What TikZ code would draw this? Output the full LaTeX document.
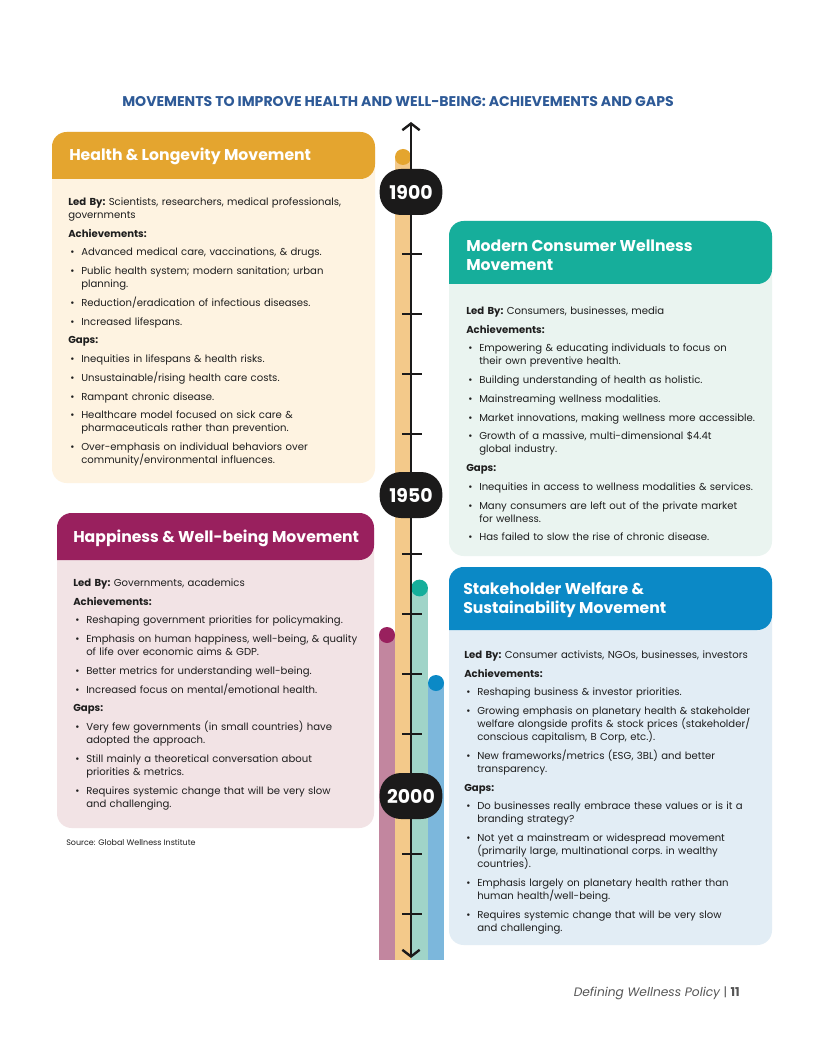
\documentclass[tikz,border=0pt]{standalone}
\usepackage{fontspec}
\setmainfont{Poppins}
\usetikzlibrary{arrows.meta}

\definecolor{titleblue}{HTML}{2E5A97}
\definecolor{txtgray}{HTML}{1E1E1E}
\definecolor{footgray}{HTML}{555555}
\definecolor{yearblack}{HTML}{1B1A1A}
\definecolor{hlhdr}{HTML}{E4A52F}
\definecolor{hlbody}{HTML}{FEF3E1}
\definecolor{hlbar}{HTML}{F3C98A}
\definecolor{mchdr}{HTML}{16AE9B}
\definecolor{mcbody}{HTML}{EAF4F0}
\definecolor{mcbar}{HTML}{A0D4C8}
\definecolor{hwhdr}{HTML}{99205E}
\definecolor{hwbody}{HTML}{F2E3E5}
\definecolor{hwbar}{HTML}{C2869F}
\definecolor{swhdr}{HTML}{0B89C6}
\definecolor{swbody}{HTML}{E2EDF5}
\definecolor{swbar}{HTML}{7CB7DC}

% box with coloured head: x1, ytop, x2, yhead, ybottom, head colour, body colour
\newcommand{\movbox}[7]{%
  \fill[#7, rounded corners=11bp] (#1,#2) rectangle (#3,#5);
  \fill[#6] (#1,#4) [rounded corners=11bp] -- (#1,#2) -- (#3,#2) -- (#3,#4) [sharp corners] -- cycle;
}
\newcommand{\hd}[1]{\par\vspace{4.3pt}\noindent\textbf{#1}}
\newcommand{\itm}[1]{\par\vspace{4.3pt}\noindent\hangindent=9.75bp\hangafter=1\makebox[9.75bp][l]{\hspace{1.5bp}\textbullet}#1}

\tikzset{
  hdrtext/.style={anchor=west, inner sep=0pt, text=white, align=left,
    font=\fontsize{11.8}{14.2}\selectfont\bfseries},
  bodytext/.style={anchor=north west, inner sep=0pt, text=txtgray, text width=234bp,
    align=left, font=\fontsize{7.6}{9.8}\selectfont\frenchspacing},
  yearlabel/.style={fill=yearblack, text=white, inner sep=0pt, rounded corners=16bp,
    minimum width=47bp, minimum height=34.5bp, font=\fontsize{14.2}{16}\selectfont\bfseries},
  yeartick/.style={line width=0.9pt, draw=yearblack},
  barb/.tip={Straight Barb[length=5bp, width=13bp, line width=1.8bp]}
}

\begin{document}
\begin{tikzpicture}[x=0.75bp, y=-0.75bp]
\useasboundingbox[fill=white] (0,0) rectangle (816,1056);

\node[font=\fontsize{10.6}{12}\selectfont\bfseries, text=titleblue] (title) at (398,102)
  {MOVEMENTS TO IMPROVE HEALTH AND WELL-BEING: ACHIEVEMENTS AND GAPS};

% the four movements
\movbox{52}{132}{375}{179}{483}{hlhdr}{hlbody}
\movbox{449}{221}{772}{284}{556}{mchdr}{mcbody}
\movbox{57}{513}{374}{560}{828}{hwhdr}{hwbody}
\movbox{449}{567}{772}{630}{945}{swhdr}{swbody}

\node[hdrtext] (hlhead) at (69,156) {Health \& Longevity Movement};
\node[hdrtext] (mchead) at (466,255.5) {Modern Consumer Wellness\\Movement};
\node[hdrtext] (hwhead) at (73,538) {Happiness \& Well-being Movement};
\node[hdrtext] (swhead) at (463,599.5) {Stakeholder Welfare \&\\Sustainability Movement};

\node[bodytext] (hltext) at (68,197.5) {%
\noindent\textbf{Led By:} Scientists, researchers, medical professionals,\newline governments
\hd{Achievements:}
\itm{Advanced medical care, vaccinations, \& drugs.}
\itm{Public health system; modern sanitation; urban\newline planning.}
\itm{Reduction/eradication of infectious diseases.}
\itm{Increased lifespans.}
\hd{Gaps:}
\itm{Inequities in lifespans \& health risks.}
\itm{Unsustainable/rising health care costs.}
\itm{Rampant chronic disease.}
\itm{Healthcare model focused on sick care \&\newline pharmaceuticals rather than prevention.}
\itm{Over-emphasis on individual behaviors over\newline community/environmental influences.}\par};

\node[bodytext] (mctext) at (466,306.5) {%
\noindent\textbf{Led By:} Consumers, businesses, media
\hd{Achievements:}
\itm{Empowering \& educating individuals to focus on\newline their own preventive health.}
\itm{Building understanding of health as holistic.}
\itm{Mainstreaming wellness modalities.}
\itm{Market innovations, making wellness more accessible.}
\itm{Growth of a massive, multi-dimensional \$4.4t\newline global industry.}
\hd{Gaps:}
\itm{Inequities in access to wellness modalities \& services.}
\itm{Many consumers are left out of the private market\newline for wellness.}
\itm{Has failed to slow the rise of chronic disease.}\par};

\node[bodytext] (hwtext) at (73,578.5) {%
\noindent\textbf{Led By:} Governments, academics
\hd{Achievements:}
\itm{Reshaping government priorities for policymaking.}
\itm{Emphasis on human happiness, well-being, \& quality\newline of life over economic aims \& GDP.}
\itm{Better metrics for understanding well-being.}
\itm{Increased focus on mental/emotional health.}
\hd{Gaps:}
\itm{Very few governments (in small countries) have\newline adopted the approach.}
\itm{Still mainly a theoretical conversation about\newline priorities \& metrics.}
\itm{Requires systemic change that will be very slow\newline and challenging.}\par};

\node[bodytext] (swtext) at (464,650.5) {%
\noindent\textbf{Led By:} Consumer activists, NGOs, businesses, investors
\hd{Achievements:}
\itm{Reshaping business \& investor priorities.}
\itm{Growing emphasis on planetary health \& stakeholder\newline welfare alongside profits \& stock prices (stakeholder/\newline conscious capitalism, B Corp, etc.).}
\itm{New frameworks/metrics (ESG, 3BL) and better\newline transparency.}
\hd{Gaps:}
\itm{Do businesses really embrace these values or is it a\newline branding strategy?}
\itm{Not yet a mainstream or widespread movement\newline (primarily large, multinational corps. in wealthy\newline countries).}
\itm{Emphasis largely on planetary health rather than\newline human health/well-being.}
\itm{Requires systemic change that will be very slow\newline and challenging.}\par};

% timeline bars
\fill[hwbar] (379,635) rectangle (395,960);
\fill[hlbar] (395,157) rectangle (411,960);
\fill[mcbar] (411,588) rectangle (428,960);
\fill[swbar] (428,683) rectangle (444,960);
\fill[hwhdr] (387,635) circle[radius=6bp];
\fill[hlhdr] (403,157) circle[radius=6bp];
\fill[mchdr] (419.5,588) circle[radius=6.3bp];
\fill[swhdr] (436,683) circle[radius=6bp];

% axis
\coordinate (axtop) at (411,122);
\coordinate (axbot) at (411,958);
\draw[line width=0.9bp, draw=yearblack, barb-barb] (axbot) -- (axtop);
\foreach \ty in {254,314,374,434,554,614,674,734,854,914}
  \draw[yeartick] (402,\ty) -- (422,\ty);

\node[yearlabel] (y1900) at (411,192) {1900};
\node[yearlabel] (y1950) at (411,495) {1950};
\node[yearlabel] (y2000) at (411,796) {2000};

\node[anchor=west, inner sep=0pt, font=\fontsize{6}{7}\selectfont, text=txtgray] (source) at (66,842)
  {Source: Global Wellness Institute};
\node[anchor=east, inner sep=0pt, font=\fontsize{9.2}{11}\selectfont, text=footgray] (pagefoot) at (740,993)
  {\textit{Defining Wellness Policy} | \textbf{11}};
\end{tikzpicture}
\end{document}
